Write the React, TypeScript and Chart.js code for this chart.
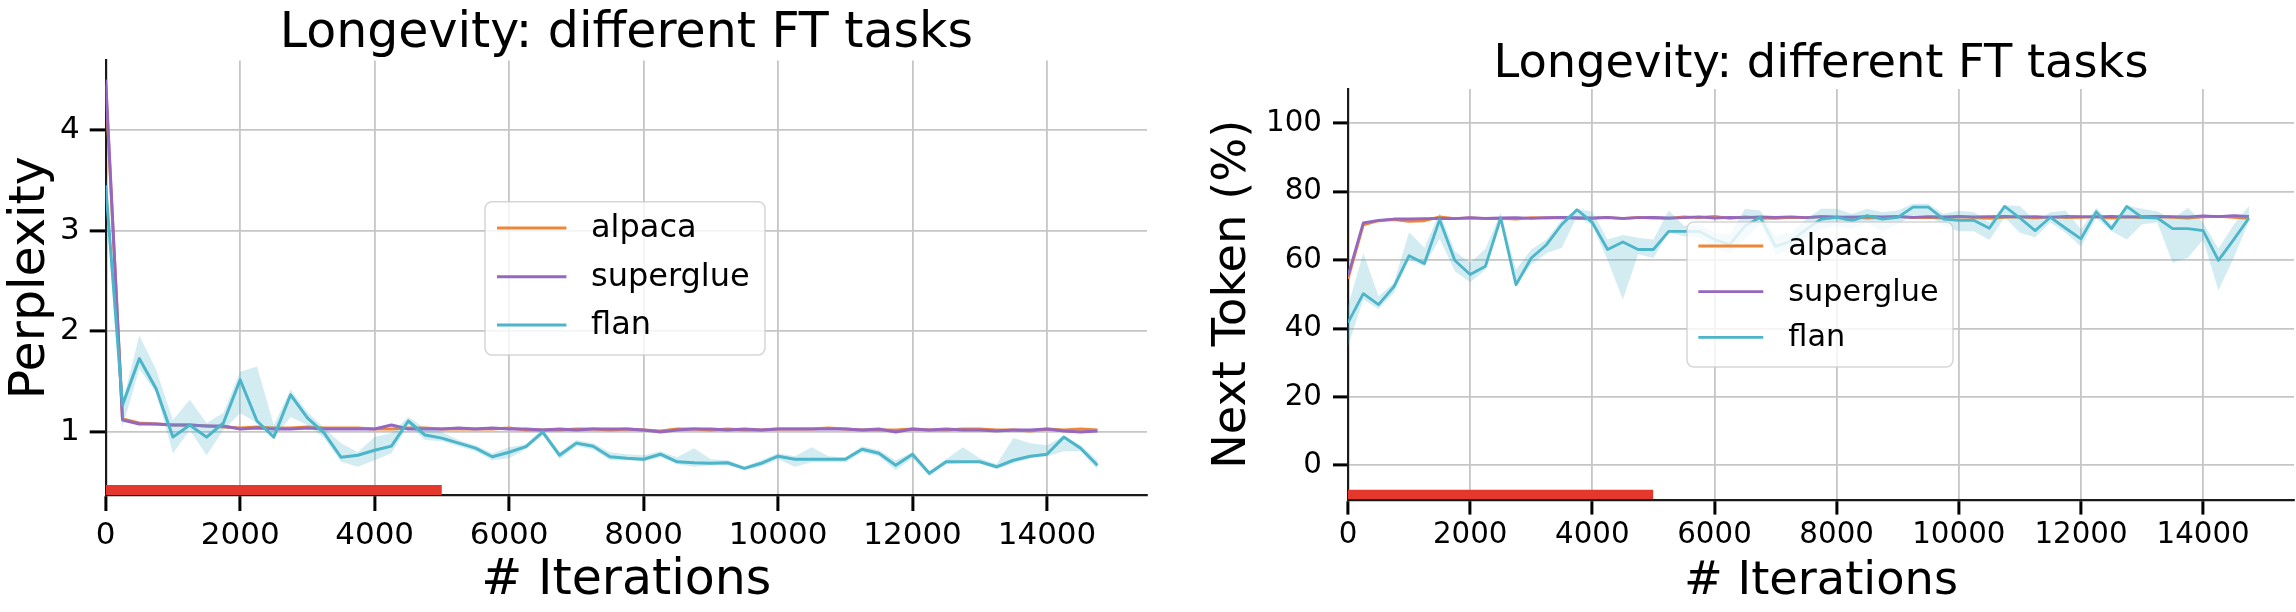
import React, { useEffect, useRef } from 'react';
import { Chart, registerables } from 'chart.js';

Chart.register(...registerables);

const FONT = '"DejaVu Sans", "Noto Sans", sans-serif';

// ---------- data ----------
const iterations = [
  0, 250, 500, 750, 1000, 1250, 1500, 1750, 2000, 2250,
  2500, 2750, 3000, 3250, 3500, 3750, 4000, 4250, 4500, 4750,
  5000, 5250, 5500, 5750, 6000, 6250, 6500, 6750, 7000, 7250,
  7500, 7750, 8000, 8250, 8500, 8750, 9000, 9250, 9500, 9750,
  10000, 10250, 10500, 10750, 11000, 11250, 11500, 11750, 12000, 12250,
  12500, 12750, 13000, 13250, 13500, 13750, 14000, 14250, 14500, 14750,
];
const xTicks = [0, 2000, 4000, 6000, 8000, 10000, 12000, 14000];
const perplexityTicks = [1, 2, 3, 4];
const nextTokenTicks = [0, 20, 40, 60, 80, 100];
const seriesNames = ['alpaca', 'superglue', 'flan'];
const trainingSpan = [0, 5000];

// Perplexity panel
const pplAlpaca = [
  4.45, 1.13, 1.09, 1.08, 1.07, 1.07, 1.06, 1.05, 1.04, 1.05,
  1.04, 1.04, 1.05, 1.04, 1.04, 1.04, 1.03, 1.03, 1.04, 1.04,
  1.03, 1.03, 1.03, 1.03, 1.04, 1.02, 1.02, 1.02, 1.03, 1.03,
  1.02, 1.03, 1.02, 1.01, 1.03, 1.03, 1.02, 1.03, 1.02, 1.02,
  1.03, 1.03, 1.03, 1.04, 1.03, 1.02, 1.02, 1.02, 1.03, 1.02,
  1.02, 1.03, 1.03, 1.02, 1.02, 1.01, 1.03, 1.02, 1.03, 1.02,
];
const pplSuperglue = [
  4.5, 1.12, 1.08, 1.08, 1.07, 1.07, 1.06, 1.06, 1.03, 1.04,
  1.03, 1.03, 1.04, 1.03, 1.03, 1.03, 1.03, 1.07, 1.03, 1.03,
  1.03, 1.04, 1.03, 1.04, 1.03, 1.03, 1.02, 1.03, 1.02, 1.03,
  1.03, 1.03, 1.02, 1.0, 1.02, 1.03, 1.03, 1.02, 1.03, 1.02,
  1.03, 1.03, 1.03, 1.03, 1.03, 1.02, 1.03, 1.0, 1.03, 1.02,
  1.03, 1.02, 1.02, 1.01, 1.02, 1.02, 1.03, 1.01, 1.0, 1.01,
];
const pplFlan = [
  3.45, 1.27, 1.73, 1.43, 0.95, 1.07, 0.95, 1.09, 1.52, 1.11,
  0.95, 1.37, 1.14, 0.99, 0.75, 0.77, 0.82, 0.86, 1.11, 0.97,
  0.94, 0.89, 0.84, 0.755, 0.8, 0.855, 1.0, 0.77, 0.89, 0.86,
  0.755, 0.74, 0.73, 0.78, 0.705, 0.695, 0.69, 0.695, 0.64, 0.69,
  0.76, 0.73, 0.73, 0.73, 0.73, 0.83, 0.79, 0.67, 0.78, 0.59,
  0.705, 0.705, 0.705, 0.655, 0.72, 0.76, 0.78, 0.95, 0.84, 0.67,
];
const pplFlanUpper = [
  3.6, 1.29, 1.96, 1.62, 1.12, 1.32, 1.09, 1.19, 1.6, 1.65,
  1.07, 1.42, 1.2, 1.04, 0.89, 0.8, 0.95, 0.99, 1.15, 1.04,
  1.0, 0.92, 0.87, 0.79, 0.85, 0.88, 1.03, 0.8, 0.92, 0.89,
  0.8, 0.78, 0.77, 0.81, 0.75, 0.84, 0.73, 0.72, 0.66, 0.72,
  0.79, 0.76, 0.85, 0.76, 0.75, 0.86, 0.82, 0.72, 0.8, 0.61,
  0.73, 0.85, 0.74, 0.68, 0.94, 0.89, 0.87, 0.96, 0.87, 0.72,
];
const pplFlanLower = [
  3.3, 1.05, 1.63, 1.39, 0.79, 1.02, 0.77, 1.02, 1.19, 1.09,
  0.94, 1.15, 1.07, 0.94, 0.705, 0.655, 0.72, 0.79, 1.07, 0.92,
  0.91, 0.86, 0.81, 0.72, 0.74, 0.83, 0.97, 0.73, 0.86, 0.83,
  0.72, 0.72, 0.71, 0.75, 0.68, 0.655, 0.67, 0.67, 0.62, 0.66,
  0.73, 0.655, 0.7, 0.7, 0.7, 0.8, 0.76, 0.62, 0.74, 0.56,
  0.68, 0.69, 0.69, 0.63, 0.69, 0.74, 0.76, 0.81, 0.81, 0.63,
];
const pplBarTop = 0.474;

// Next-token panel
const ntAlpaca = [
  54.5, 70.3, 71.5, 71.8, 71.3, 71.5, 72.6, 72.1, 72.3, 72.1,
  72.2, 72.0, 72.4, 72.3, 72.4, 72.1, 72.2, 72.4, 72.1, 72.5,
  72.3, 72.2, 72.6, 72.4, 72.8, 72.2, 72.6, 72.3, 72.2, 72.5,
  72.4, 72.7, 72.4, 72.6, 72.3, 72.5, 72.8, 72.4, 72.5, 72.3,
  72.6, 72.4, 72.2, 72.5, 72.6, 72.3, 72.6, 72.4, 72.5, 72.7,
  72.3, 72.6, 72.4, 72.6, 72.5, 72.3, 72.6, 72.8, 72.5, 72.2,
];
const ntSuperglue = [
  55.3, 70.9, 71.6, 72.0, 72.0, 72.1, 72.2, 72.1, 72.4, 72.2,
  72.3, 72.4, 72.2, 72.4, 72.5, 72.4, 72.3, 72.5, 72.2, 72.4,
  72.5, 72.3, 72.4, 72.6, 72.3, 72.5, 72.4, 72.6, 72.5, 72.6,
  72.4, 72.7, 72.6, 72.5, 72.8, 72.6, 72.7, 72.5, 72.7, 72.6,
  72.8, 72.6, 72.7, 72.8, 72.6, 72.7, 72.5, 72.8, 72.7, 72.6,
  72.8, 72.6, 72.7, 72.8, 72.7, 72.6, 72.9, 72.7, 73.0, 72.8,
];
const ntFlan = [
  41.7, 50.2, 47.0, 52.2, 61.3, 59.0, 71.8, 59.9, 55.8, 58.2,
  72.3, 52.8, 60.6, 64.5, 70.4, 74.7, 71.0, 63.1, 65.3, 63.1,
  63.1, 68.4, 68.4, 68.4, 66.0, 64.5, 70.0, 72.5, 64.0, 65.5,
  69.0, 72.0, 72.5, 71.5, 73.0, 72.0, 72.5, 75.5, 75.5, 72.0,
  71.6, 71.6, 69.3, 75.7, 72.3, 68.6, 72.5, 69.3, 66.2, 74.1,
  69.2, 75.7, 72.5, 72.3, 69.2, 69.2, 68.6, 59.9, 66.0, 72.3,
];
const ntFlanUpper = [
  46.5, 62.1, 49.4, 53.3, 68.1, 63.6, 73.8, 62.6, 59.2, 63.3,
  73.8, 57.2, 63.1, 66.0, 71.8, 75.0, 74.1, 66.0, 67.3, 66.5,
  66.0, 74.5, 70.0, 70.5, 68.0, 67.5, 75.0, 74.5, 67.0, 68.0,
  72.0, 75.0, 75.0, 73.5, 75.0, 74.0, 74.5, 76.5, 76.5, 73.5,
  74.4, 74.0, 71.0, 76.0, 75.8, 71.5, 74.0, 74.5, 69.0, 75.3,
  70.5, 75.9, 75.0, 74.3, 72.0, 75.3, 71.0, 63.3, 70.3, 75.8,
];
const ntFlanLower = [
  34.8, 48.5, 45.7, 50.4, 60.1, 58.2, 66.2, 56.7, 53.5, 57.2,
  70.9, 52.4, 58.7, 62.0, 63.6, 72.8, 70.1, 60.0, 48.5, 61.7,
  60.6, 68.1, 67.0, 66.5, 63.5, 62.0, 66.0, 70.5, 61.5, 63.0,
  66.5, 69.0, 70.0, 69.0, 71.0, 68.3, 70.5, 73.0, 73.0, 70.0,
  68.4, 68.4, 65.9, 72.5, 68.0, 66.7, 71.0, 68.0, 64.0, 72.3,
  68.5, 66.0, 70.5, 71.0, 59.2, 60.7, 66.0, 51.1, 60.6, 71.4,
];
const ntBarTop = -7.1;

// ---------- styles ----------
const C_ALPACA = '#ee8637';
const C_SUPERGLUE = '#9567bf';
const C_FLAN = '#4cb5c9';
const C_FLAN_FILL = 'rgba(76, 181, 201, 0.25)';
const C_BAR = '#e5382c';
const C_GRID = '#c6c6c6';
const seriesColors = [C_ALPACA, C_SUPERGLUE, C_FLAN];

type LegendLayout = {
  dx: number; dy: number; w: number; h: number; font: number; lw: number;
  h0: number; h1: number; tx: number; rows: number[];
};

function makeLegendPlugin(L: LegendLayout) {
  return {
    id: 'boxLegend',
    afterDraw(chart: any) {
      const { ctx, chartArea } = chart;
      const x0 = chartArea.left + L.dx;
      const y0 = chartArea.top + L.dy;
      ctx.save();
      ctx.beginPath();
      (ctx as any).roundRect(x0, y0, L.w, L.h, 7);
      ctx.fillStyle = 'rgba(255,255,255,0.8)';
      ctx.fill();
      ctx.lineWidth = 1.5;
      ctx.strokeStyle = 'rgba(204,204,204,0.8)';
      ctx.stroke();
      ctx.font = `${L.font}px ${FONT}`;
      ctx.textBaseline = 'middle';
      ctx.textAlign = 'left';
      seriesNames.forEach((name, i) => {
        const y = y0 + L.rows[i];
        ctx.beginPath();
        ctx.moveTo(x0 + L.h0, y);
        ctx.lineTo(x0 + L.h1, y);
        ctx.strokeStyle = seriesColors[i];
        ctx.lineWidth = L.lw;
        ctx.lineCap = 'butt';
        ctx.stroke();
        ctx.fillStyle = '#000';
        ctx.fillText(name, x0 + L.tx, y + 1);
      });
      ctx.restore();
    },
  };
}

type PanelSpec = {
  yTitle: string; yMin: number; yMax: number; yTicks: number[];
  alpaca: number[]; superglue: number[]; flan: number[]; flanUpper: number[]; flanLower: number[]; barTop: number;
  labelSize: number; tickSize: number; tickLen: number; yTickPad: number; xTickPad: number;
  yScaleWidth: number; xScaleHeight: number; padRight: number;
  titlePadTop: number; titlePadBottom: number; yTitlePad: number; xTitlePad: number;
  lw: number; legend: LegendLayout;
};

function buildConfig(p: PanelSpec): any {
  const pts = (arr: number[]) => arr.map((y, i) => ({ x: iterations[i], y }));
  const base = { pointRadius: 0, pointHoverRadius: 0, tension: 0, borderJoinStyle: 'round' };
  const none = 'rgba(0,0,0,0)';
  return {
    type: 'line',
    data: {
      datasets: [
        { ...base, label: 'flan', data: pts(p.flan), borderColor: C_FLAN, borderWidth: p.lw, fill: false, order: 0 },
        { ...base, label: 'flan upper', data: pts(p.flanUpper), borderColor: none, borderWidth: 0, backgroundColor: C_FLAN_FILL, fill: '+1', order: 1 },
        { ...base, label: 'flan lower', data: pts(p.flanLower), borderColor: none, borderWidth: 0, fill: false, order: 2 },
        { ...base, label: 'superglue', data: pts(p.superglue), borderColor: C_SUPERGLUE, borderWidth: p.lw, fill: false, order: 3 },
        { ...base, label: 'alpaca', data: pts(p.alpaca), borderColor: C_ALPACA, borderWidth: p.lw, fill: false, order: 4 },
        { ...base, label: 'training', data: trainingSpan.map((x) => ({ x, y: p.barTop })), borderColor: none, borderWidth: 0, backgroundColor: C_BAR, fill: 'start', order: 5 },
      ],
    },
    options: {
      responsive: false,
      animation: false,
      devicePixelRatio: 1,
      events: [],
      layout: { padding: { left: 0, right: p.padRight, top: 0, bottom: 0 } },
      plugins: {
        legend: { display: false },
        tooltip: { enabled: false },
        title: {
          display: true,
          text: 'Longevity: different FT tasks',
          color: '#000',
          fullSize: false,
          font: { family: FONT, size: p.labelSize, weight: 'normal', lineHeight: 1 },
          padding: { top: p.titlePadTop, bottom: p.titlePadBottom },
        },
      },
      scales: {
        x: {
          type: 'linear',
          min: 0,
          max: 15487.5,
          afterBuildTicks: (s: any) => { s.ticks = xTicks.map((v) => ({ value: v })); },
          afterFit: (s: any) => { s.height = p.xScaleHeight; },
          ticks: {
            autoSkip: false, maxRotation: 0, minRotation: 0, color: '#000', padding: p.xTickPad,
            font: { family: FONT, size: p.tickSize, lineHeight: 1.2 },
            callback: (v: any) => String(v),
          },
          grid: { color: C_GRID, lineWidth: 1.8, tickLength: p.tickLen, tickColor: '#000', tickWidth: 3 },
          border: { color: '#1a1a1a', width: 2.2 },
          title: {
            display: true, text: '# Iterations', color: '#000',
            font: { family: FONT, size: p.labelSize, lineHeight: 1 },
            padding: { top: 0, bottom: p.xTitlePad },
          },
        },
        y: {
          type: 'linear',
          min: p.yMin,
          max: p.yMax,
          afterBuildTicks: (s: any) => { s.ticks = p.yTicks.map((v) => ({ value: v })); },
          afterFit: (s: any) => { s.width = p.yScaleWidth; },
          ticks: {
            color: '#000', padding: p.yTickPad,
            font: { family: FONT, size: p.tickSize, lineHeight: 1.2 },
            callback: (v: any) => String(v),
          },
          grid: { color: C_GRID, lineWidth: 1.8, tickLength: p.tickLen, tickColor: '#000', tickWidth: 3 },
          border: { color: '#1a1a1a', width: 2.2 },
          title: {
            display: true, text: p.yTitle, color: '#000',
            font: { family: FONT, size: p.labelSize, lineHeight: 1 },
            padding: { top: p.yTitlePad, bottom: 0 },
          },
        },
      },
    },
    plugins: [makeLegendPlugin(p.legend)],
  };
}

const leftSpec: PanelSpec = {
  yTitle: 'Perplexity', yMin: 0.375, yMax: 4.69, yTicks: perplexityTicks,
  alpaca: pplAlpaca, superglue: pplSuperglue, flan: pplFlan, flanUpper: pplFlanUpper, flanLower: pplFlanLower, barTop: pplBarTop,
  labelSize: 49, tickSize: 31, tickLen: 16, yTickPad: 10, xTickPad: 6,
  yScaleWidth: 105.7, xScaleHeight: 117, padRight: 3,
  titlePadTop: 9.9, titlePadBottom: 1.6, yTitlePad: 6.5, xTitlePad: 6.0,
  lw: 3,
  legend: { dx: 379.3, dy: 141.2, w: 280, h: 153.3, font: 32, lw: 3, h0: 12, h1: 81.4, tx: 106, rows: [26.3, 75, 123.3] },
};

const rightSpec: PanelSpec = {
  yTitle: 'Next Token (%)', yMin: -10, yMax: 110, yTicks: nextTokenTicks,
  alpaca: ntAlpaca, superglue: ntSuperglue, flan: ntFlan, flanUpper: ntFlanUpper, flanLower: ntFlanLower, barTop: ntBarTop,
  labelSize: 46.3, tickSize: 29.3, tickLen: 15, yTickPad: 11, xTickPad: 3.4,
  yScaleWidth: 198, xScaleHeight: 112.4, padRight: 2,
  titlePadTop: 42.1, titlePadBottom: 0.6, yTitlePad: 60, xTitlePad: 6.5,
  lw: 2.8,
  legend: { dx: 339, dy: 133, w: 266, h: 145, font: 30.3, lw: 2.8, h0: 11.3, h1: 76.3, tx: 101.3, rows: [24, 69.7, 115.3] },
};

export default function App() {
  const leftRef = useRef<HTMLCanvasElement>(null);
  const rightRef = useRef<HTMLCanvasElement>(null);

  useEffect(() => {
    const c1 = new Chart(leftRef.current as HTMLCanvasElement, buildConfig(leftSpec));
    const c2 = new Chart(rightRef.current as HTMLCanvasElement, buildConfig(rightSpec));
    return () => {
      c1.destroy();
      c2.destroy();
    };
  }, []);

  return (
    <div style={{ position: 'absolute', left: 0, top: 0, width: 2296, height: 612, background: '#ffffff', overflow: 'hidden' }}>
      <canvas ref={leftRef} width={1150} height={612} style={{ position: 'absolute', left: 0, top: 0 }} />
      <canvas ref={rightRef} width={1146} height={612} style={{ position: 'absolute', left: 1150, top: 0 }} />
    </div>
  );
}
